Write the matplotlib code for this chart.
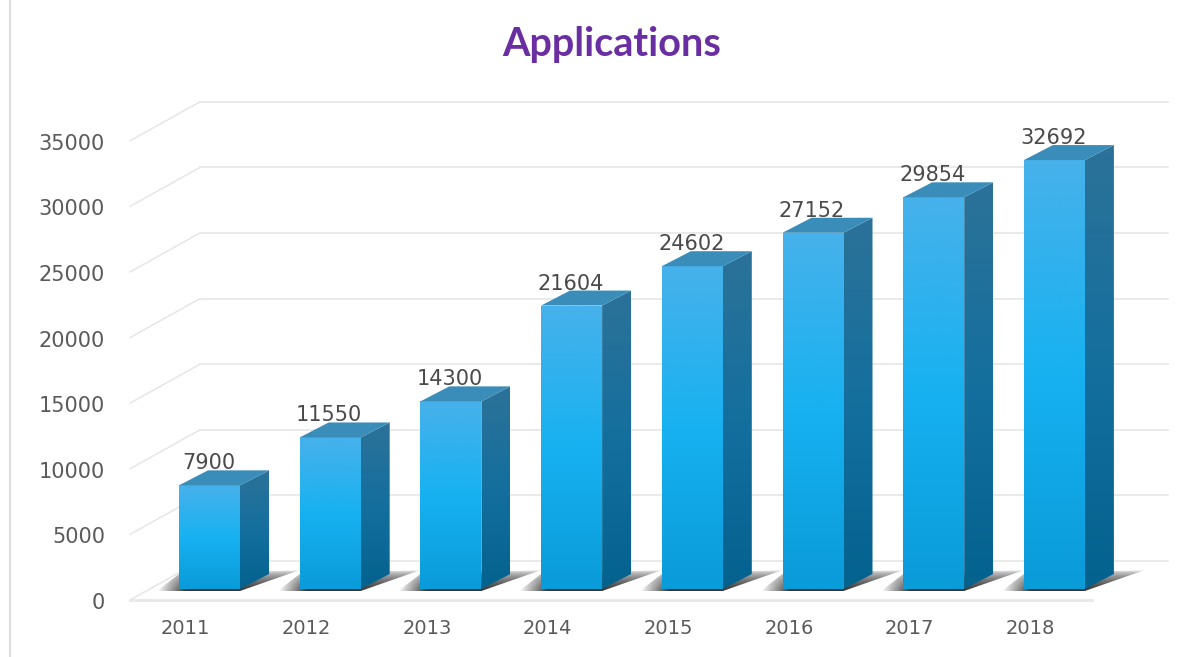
import numpy as np
import matplotlib
matplotlib.use('Agg')
import matplotlib.pyplot as plt
from matplotlib.colors import LinearSegmentedColormap
from matplotlib.patches import Polygon

years = ['2011', '2012', '2013', '2014', '2015', '2016', '2017', '2018']
values = [7900, 11550, 14300, 21604, 24602, 27152, 29854, 32692]
yticks = [0, 5000, 10000, 15000, 20000, 25000, 30000, 35000]

W, H = 1195, 657
# pixels per category / per unit, used to turn pixel offsets into data units
PX_X = 120.7
PX_Y = 0.01312
BAR_W = 61 / PX_X
SIDE_X = 29 / PX_X
SIDE_Y = 15 / PX_Y

def ox(px):
    return px / PX_X

def oy(px):
    return px / PX_Y

front_cm = LinearSegmentedColormap.from_list('front', ['#47b1eb', '#17b1f1', '#0a9bd9'])
side_cm = LinearSegmentedColormap.from_list('side', ['#2c7299', '#146f9e', '#04628f'])
grad = np.linspace(0, 1, 256).reshape(-1, 1)

fig = plt.figure(figsize=(W / 100, H / 100), dpi=100)
ax = fig.add_axes([0, 0, 1, 1])
ax.axis('off')
xlim = (-209.5 / PX_X, (W - 209.5) / PX_X)
ylim = ((589 - H) / PX_Y, 589 / PX_Y)

def fill_face(pts, cmap, z):
    pts = np.array(pts)
    im = ax.imshow(grad, cmap=cmap, aspect='auto', zorder=z, interpolation='bilinear',
                   extent=[pts[:, 0].min(), pts[:, 0].max(), pts[:, 1].min(), pts[:, 1].max()])
    im.set_clip_path(Polygon(pts, transform=ax.transData))

# walls
for t in yticks:
    y0 = t - oy(11)
    x0 = ox(-79.5)
    x1 = ox(-9.5)
    y1 = t + oy(28)
    ax.plot([x0, x1], [y0, y1], color='#e6e6e6', lw=1.1, zorder=1)
    ax.plot([x1, ox(958.5)], [y1, y1], color='#e8e8e8', lw=1.3, zorder=1)
ax.plot([ox(-79.5), ox(882.5)], [oy(-11), oy(-11)], color='#e8e8e8', lw=2, zorder=1)
ax.plot([ox(-199.5), ox(-199.5)], [ylim[0], ylim[1]], color='#dddddd', lw=1.5, zorder=1)

# floor shadows
for i, v in enumerate(values):
    left = i - BAR_W / 2
    right = i + BAR_W / 2
    pts = np.array([[left - ox(22), oy(-2)], [left, oy(15)], [right + ox(60), oy(19)], [right, oy(-2)]])
    img = np.zeros((64, 128, 4))
    a_y = np.linspace(0, 1, 64) ** 0.55
    a_x = np.clip(np.linspace(0, 5, 128), 0, 1)
    img[:, :, :3] = 0.2
    img[:, :, 3] = np.outer(a_y, a_x)
    im = ax.imshow(img, aspect='auto', zorder=2, interpolation='bilinear',
                   extent=[pts[:, 0].min(), pts[:, 0].max(), oy(-2), oy(19)])
    im.set_clip_path(Polygon(pts, transform=ax.transData))

# bars
for i, v in enumerate(values):
    left = i - BAR_W / 2
    right = i + BAR_W / 2
    fill_face([(left, 0), (right, 0), (right, v), (left, v)], front_cm, 5)
    fill_face([(right, 0), (right + SIDE_X, SIDE_Y), (right + SIDE_X, v + SIDE_Y), (right, v)], side_cm, 5)
    ax.add_patch(Polygon([(left, v), (right, v), (right + SIDE_X, v + SIDE_Y), (left + SIDE_X, v + SIDE_Y)],
                         facecolor='#3a8cb9', edgecolor='none', zorder=5))
    ax.text(i - ox(1), v + oy(22), str(v), ha='center', va='center', fontsize=15,
            color='#4a4a4a', zorder=6)
    ax.text(i - ox(24), oy(-39), years[i], ha='center', va='center', fontsize=14, color='#5a5a5a')

for t in yticks:
    ax.text(ox(-104.5), t - oy(14), str(t), ha='right', va='center', fontsize=15, color='#5a5a5a')

ax.text(ox(402.5), oy(544), 'Applications', ha='center', va='center', fontsize=28.5,
        fontweight='bold', family='Lato', color='#6a2ea3')

ax.set_xlim(xlim)
ax.set_ylim(ylim)
fig.savefig('out.png', dpi=100, facecolor='white')
